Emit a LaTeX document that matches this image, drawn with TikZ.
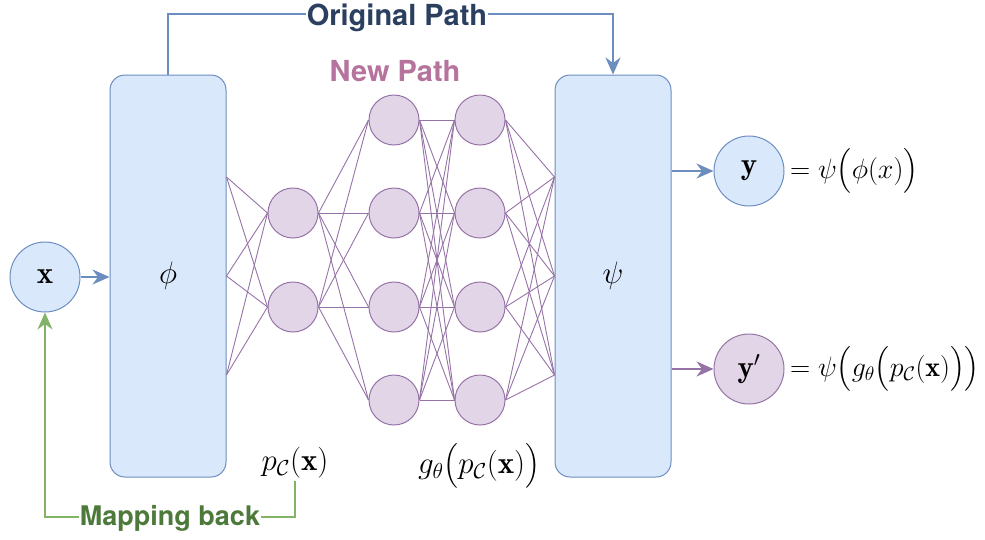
\RequirePackage{fix-cm}
\documentclass[tikz,border=0pt]{standalone}
\usepackage{amsmath}
\usepackage{fontspec}
\newfontfamily\headfont{TeX Gyre Heros}
\usetikzlibrary{arrows.meta}

\definecolor{blueFill}{HTML}{DAE8FC}
\definecolor{blueLine}{HTML}{6C8EBF}
\definecolor{purpFill}{HTML}{E1D5E7}
\definecolor{purpLine}{HTML}{9673A6}
\definecolor{greenLine}{HTML}{82B366}
\definecolor{origText}{HTML}{2B4060}
\definecolor{newText}{HTML}{B5739D}
\definecolor{mapText}{HTML}{4D7A3A}

\newcommand{\mathsz}{\fontsize{28}{34}\selectfont}
\newcommand{\circsz}{\fontsize{31}{37}\selectfont}
\newcommand{\labsz}{\fontsize{31}{37}\selectfont}

\begin{document}
\begin{tikzpicture}[x=1pt,y=-1pt,
  block/.style={draw=blueLine, fill=blueFill, line width=1pt, rounded corners=15pt,
    minimum width=116pt, minimum height=402pt, inner sep=0pt, font=\circsz},
  bcirc/.style={circle, draw=blueLine, fill=blueFill, line width=1pt,
    minimum size=70pt, inner sep=0pt, font=\circsz},
  pcirc/.style={bcirc, draw=purpLine, fill=purpFill},
  neuron/.style={circle, draw=purpLine, fill=purpFill, line width=1pt,
    minimum size=50pt, inner sep=0pt},
  syn/.style={draw=purpLine, line width=0.9pt},
  tip/.style={-{Stealth[length=17pt,width=15pt,inset=5.5pt]}},
  bline/.style={draw=blueLine, line width=2pt},
  gline/.style={draw=greenLine, line width=2pt},
  heading/.style={font=\headfont\bfseries\fontsize{29}{34}\selectfont, anchor=base,
    fill=white, inner xsep=1pt, inner ysep=0pt}
]
\useasboundingbox (0,0) rectangle (985,539);

% encoder, decoder and input / output nodes
\node[block] (phi) at (168,276) {$\phi$};
\node[block] (psi) at (613,276) {$\psi$};
\node[bcirc] (x) at (45,277) {$\mathbf{x}$};
\node[bcirc] (y) at (749,171) {$\mathbf{y}$};
\node[pcirc] (yp) at (749,369) {$\mathbf{y}'$};

% small network between the blocks
\foreach \i/\yy in {1/213,2/307}
  \node[neuron] (a\i) at (293,\yy) {};
\foreach \i/\yy in {1/120,2/213,3/307,4/400} {
  \node[neuron] (b\i) at (394,\yy) {};
  \node[neuron] (c\i) at (480,\yy) {};
}
\foreach \i/\s in {1/99,2/0,3/-99} {
  \coordinate (pin\i) at ([yshift=\s pt]phi.east);
  \coordinate (qin\i) at ([yshift=\s pt]psi.west);
}
\foreach \i in {1,2,3} \foreach \j in {1,2}
  \draw[syn] (pin\i) -- (a\j.west);
\foreach \i in {1,2} \foreach \j in {1,...,4}
  \draw[syn] (a\i.east) -- (b\j.west);
\foreach \i in {1,...,4} \foreach \j in {1,...,4}
  \draw[syn] (b\i.east) -- (c\j.west);
\foreach \i in {1,...,4} \foreach \j in {1,2,3}
  \draw[syn] (c\i.east) -- (qin\j);

% connectors of the original path
\draw[bline, tip] (x.east) -- (phi.west |- x.east);
\draw[bline, tip] (psi.east |- y.west) -- (y.west);
\draw[draw=purpLine, line width=2pt, tip] (psi.east |- yp.west) -- (yp.west);
\draw[bline, tip] (phi.north) -- ++(0,-61) -| (psi.north);
\node[heading, text=origText] (orig) at (397,25) {Original Path};
\node[heading, text=newText, fill=none] (newp) at (395,81) {New Path};

% output formulas
\node[anchor=west, inner sep=0pt, font=\mathsz] (fy) at (790,171)
  {$=\psi\bigl(\phi(x)\bigr)$};
\node[anchor=west, inner sep=0pt, font=\mathsz] (fyp) at (790,369)
  {$=\psi\bigl(g_\theta\bigl(p_{\mathcal{C}}(\mathbf{x})\bigr)\bigr)$};

% intermediate representations
\node[font=\labsz, inner sep=2pt] (pc) at (295,463) {$p_{\mathcal{C}}(\mathbf{x})$};
\node[font=\labsz, inner sep=2pt] (gp) at (479,466)
  {$g_\theta\bigl(p_{\mathcal{C}}(\mathbf{x})\bigr)$};

% mapping back to the input
\coordinate (turn) at (45,517);
\draw[gline, tip] (pc.south) |- (turn) -- (x.south);
\node[heading, text=mapText, font=\headfont\bfseries\fontsize{27}{32}\selectfont]
  (mb) at (170,525) {Mapping back};
\end{tikzpicture}
\end{document}
